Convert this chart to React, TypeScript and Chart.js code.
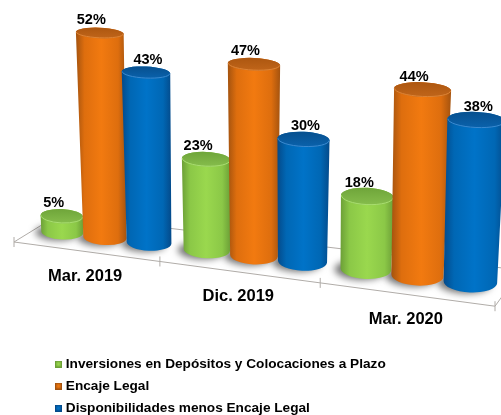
import React, { useEffect, useRef } from "react";
import { Chart, registerables } from "chart.js";

Chart.register(...registerables);

const categories = ["Mar. 2019", "Dic. 2019", "Mar. 2020"];
const inversiones = [5, 23, 18];
const encaje = [52, 47, 44];
const disponibilidades = [43, 30, 38];

const FONT = '"Liberation Sans", Arial, sans-serif';
const YMAX = 60;

// cylinder shading per series: edge, body, middle, lid dark, lid light, label x shift
const looks = [
  { edge: "#6c9f37", body: "#8bc847", mid: "#9ad84e", lidA: "#6fa53a", lidB: "#86bd4c", rim: "#a9de70", shift: -8 },
  { edge: "#a4530f", body: "#de6e0e", mid: "#f27a10", lidA: "#ad5710", lidB: "#c0651a", rim: "#dd8436", shift: -8.5 },
  { edge: "#044a8a", body: "#0067b4", mid: "#0073c8", lidA: "#07508f", lidB: "#0a62ac", rim: "#3a8ad0", shift: 2 },
];

// The oblique view of the floor: the chart's own scale positions are carried through these.
const centreX = (u: number) => 35.9 + 403.7 * u + 65 * u * u;
const frontX = (u: number) => 14 + 416 * u + 65 * u * u;
const frontY = (x: number) => 242 + (x - 14) * 0.1335;
const baseY = (x: number) => 232 + (x - 62) * 0.1225;
const pxPerUnit = (x: number) => 3.9 + 0.001 * x;
const tilt = (y: number) => 0.2 + 0.00065 * y;
const ROT = 0.045;
const BASE_SINK = 4;

function project(el: any, area: any) {
  const uL = (el.x - el.width / 2 - area.left) / area.width;
  const uR = (el.x + el.width / 2 - area.left) / area.width;
  const u = (el.x - area.left) / area.width;
  const x = centreX(u);
  const w = centreX(uR) - centreX(uL);
  const value = ((el.base - el.y) / area.height) * YMAX;
  const h = value * pxPerUnit(x) - BASE_SINK;
  const y0 = baseY(x);
  const y1 = y0 - h;
  const xTop = x + h * 1.7e-4 * (x - 255);
  const wTop = w * (1 + h * 0.0005);
  return { x, w, y0, y1, xTop, wTop, value };
}

function shade(ctx: CanvasRenderingContext2D, x0: number, x1: number, y: number, look: any) {
  const g = ctx.createLinearGradient(x0, y, x1, y);
  g.addColorStop(0, look.edge);
  g.addColorStop(0.17, look.body);
  g.addColorStop(0.5, look.mid);
  g.addColorStop(0.83, look.body);
  g.addColorStop(1, look.edge);
  return g;
}

const view3d = {
  id: "view3d",
  afterLayout(chart: any) {
    const lg = chart.legend;
    if (!lg) return;
    lg.left = 49.65;
    lg.right = 501;
    lg.top = 348.85;
    lg.bottom = 600;
  },
  beforeDatasetsDraw(chart: any) {
    const { ctx, chartArea: area } = chart;
    // floor
    const lb = { x: frontX(0), y: frontY(frontX(0)) };
    const rb = { x: frontX(1), y: frontY(frontX(1)) };
    ctx.save();
    ctx.beginPath();
    ctx.moveTo(lb.x, lb.y);
    ctx.lineTo(rb.x, rb.y);
    ctx.lineTo(rb.x + 26, rb.y - 36);
    ctx.lineTo(58, 215);
    ctx.closePath();
    ctx.fillStyle = "#ffffff";
    ctx.fill();
    ctx.strokeStyle = "#b0aca8";
    ctx.lineWidth = 1;
    ctx.stroke();
    // category ticks along the front edge
    for (let i = 0; i <= categories.length; i++) {
      const x = frontX(i / categories.length);
      const y = frontY(x);
      ctx.beginPath();
      ctx.moveTo(x, y - 5);
      ctx.lineTo(x, y + 5);
      ctx.stroke();
    }
    // category labels
    ctx.fillStyle = "#000";
    ctx.font = `bold 16.5px ${FONT}`;
    ctx.textAlign = "center";
    ctx.textBaseline = "middle";
    categories.forEach((c, i) => {
      const x = frontX((i + 0.5) / categories.length);
      ctx.fillText(chart.scales.x.getLabelForValue(i), x, frontY(x) + 25);
    });

    // bars, from the left to the right
    const bars: any[] = [];
    chart.data.datasets.forEach((_: any, d: number) => {
      chart.getDatasetMeta(d).data.forEach((el: any) => {
        bars.push({ p: project(el, area), look: looks[d] });
      });
    });
    bars.sort((a, b) => a.p.x - b.p.x);

    // soft shadows on the floor
    bars.forEach(({ p }) => {
      ctx.save();
      ctx.shadowColor = "rgba(0,0,0,0.55)";
      ctx.shadowBlur = 7;
      ctx.shadowOffsetX = 1000 - 6;
      ctx.shadowOffsetY = 1;
      ctx.fillStyle = "#000";
      ctx.beginPath();
      ctx.ellipse(p.x - 1000, p.y0, p.w / 2, (p.w / 2) * tilt(p.y0 + 8), ROT, 0, Math.PI * 2);
      ctx.fill();
      ctx.restore();
    });

    bars.forEach(({ p, look }) => {
      const ryB = (p.w / 2) * tilt(p.y0 + 8);
      const ryT = (p.wTop / 2) * tilt(p.y1);
      ctx.beginPath();
      ctx.ellipse(p.x, p.y0, p.w / 2, ryB, ROT, 0, Math.PI);
      ctx.ellipse(p.xTop, p.y1, p.wTop / 2, ryT, ROT, Math.PI, Math.PI * 2);
      ctx.closePath();
      ctx.fillStyle = shade(ctx, Math.min(p.x - p.w / 2, p.xTop - p.wTop / 2), Math.max(p.x + p.w / 2, p.xTop + p.wTop / 2), p.y0, look);
      ctx.fill();
      // lid
      const g = ctx.createLinearGradient(0, p.y1 - ryT, 0, p.y1 + ryT);
      g.addColorStop(0, look.lidA);
      g.addColorStop(1, look.lidB);
      ctx.beginPath();
      ctx.ellipse(p.xTop, p.y1, p.wTop / 2, ryT, ROT, 0, Math.PI * 2);
      ctx.fillStyle = g;
      ctx.fill();
      ctx.beginPath();
      ctx.ellipse(p.xTop, p.y1, p.wTop / 2 - 0.5, ryT - 0.5, ROT, 0, Math.PI);
      ctx.strokeStyle = look.rim;
      ctx.lineWidth = 1;
      ctx.stroke();
    });

    // value labels
    ctx.fillStyle = "#000";
    ctx.font = `bold 14.5px ${FONT}`;
    ctx.textAlign = "center";
    ctx.textBaseline = "middle";
    bars.forEach(({ p, look }) => {
      ctx.fillText(`${Math.round(p.value)}%`, p.xTop + look.shift, p.y1 - 13);
    });
    ctx.restore();
    return false;
  },
};

function legendMark(edge: string, mid: string) {
  const c = document.createElement("canvas");
  c.width = 7;
  c.height = 7;
  const g = c.getContext("2d")!;
  g.fillStyle = edge;
  g.fillRect(0, 0, 7, 7);
  const r = g.createRadialGradient(3.5, 3.5, 0.5, 3.5, 3.5, 4);
  r.addColorStop(0, mid);
  r.addColorStop(1, edge);
  g.fillStyle = r;
  g.fillRect(1, 1, 5, 5);
  return c;
}

export default function App() {
  const ref = useRef<HTMLCanvasElement>(null);
  useEffect(() => {
    const chart = new Chart(ref.current!, {
      type: "bar",
      data: {
        labels: categories,
        datasets: [
          { label: "Inversiones en Depósitos y Colocaciones a Plazo", data: inversiones, backgroundColor: looks[0].mid },
          { label: "Encaje Legal", data: encaje, backgroundColor: looks[1].mid },
          { label: "Disponibilidades menos Encaje Legal", data: disponibilidades, backgroundColor: looks[2].mid },
        ],
      },
      options: {
        responsive: false,
        animation: false,
        layout: { padding: { top: 0, left: 0, right: 0, bottom: 115 } },
        datasets: { bar: { categoryPercentage: 0.918, barPercentage: 1 } },
        scales: {
          x: { display: false },
          y: { display: false, min: 0, max: YMAX },
        },
        plugins: {
          tooltip: { enabled: false },
          legend: {
            position: "left",
            align: "start",
            labels: {
              font: { family: FONT, size: 13.65, weight: "bold" },
              color: "#000",
              usePointStyle: true,
              pointStyleWidth: 1,
              padding: 8.35,
              generateLabels: (c: any) =>
                Chart.defaults.plugins.legend.labels.generateLabels(c).map((it: any, i: number) => ({
                  ...it,
                  pointStyle: legendMark(looks[i].edge, looks[i].mid),
                })),
            },
          },
        },
      } as any,
      plugins: [view3d as any],
    });
    return () => chart.destroy();
  }, []);
  return (
    <div style={{ position: "absolute", left: 0, top: 0, width: 501, height: 415 }}>
      <canvas ref={ref} width={501} height={415} style={{ display: "block" }} />
    </div>
  );
}
